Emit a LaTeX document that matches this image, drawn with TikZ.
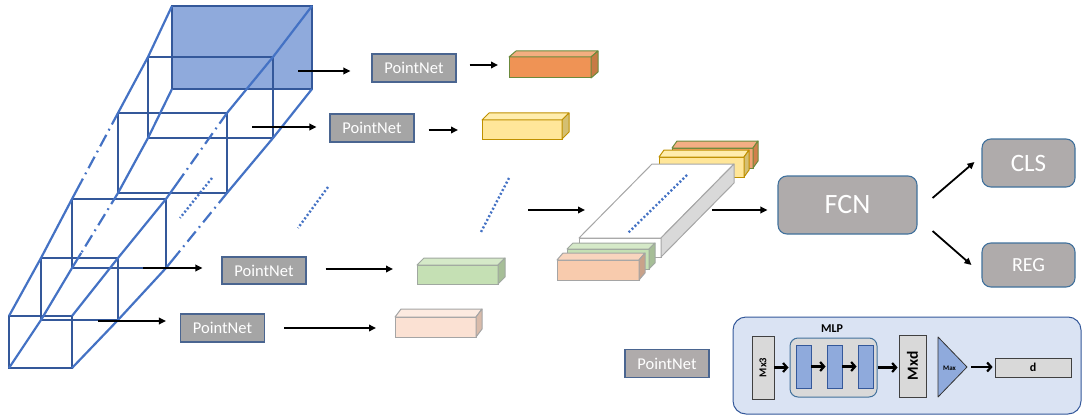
\documentclass[tikz,border=0pt]{standalone}
\usepackage{fontspec}
\setmainfont{Carlito}
\usetikzlibrary{arrows.meta,calc}
\definecolor{edgeblue}{HTML}{4472C4}
\definecolor{boxblue}{HTML}{34589A}
\definecolor{faceblue}{HTML}{8FAADC}
\definecolor{pngray}{HTML}{A5A5A5}
\definecolor{pnborder}{HTML}{4A6590}
\definecolor{warmgray}{HTML}{AFABAB}
\definecolor{rbord}{HTML}{41719C}
\definecolor{panelfill}{HTML}{DAE3F3}
\definecolor{lgray}{HTML}{D9D9D9}
% cuboid colour sets: F front, T top, S side, B border
\definecolor{orgF}{HTML}{EF9355}\definecolor{orgT}{HTML}{F4AE80}\definecolor{orgS}{HTML}{C77A45}\definecolor{orgB}{HTML}{6B8A3C}
\definecolor{yelF}{HTML}{FFE699}\definecolor{yelT}{HTML}{FFEDAD}\definecolor{yelS}{HTML}{D4BF72}\definecolor{yelB}{HTML}{BF9000}
\definecolor{grnF}{HTML}{C5E0B4}\definecolor{grnT}{HTML}{D5E9C8}\definecolor{grnS}{HTML}{A6BE97}\definecolor{grnB}{HTML}{A0A8A0}
\definecolor{pnkF}{HTML}{FBE1D3}\definecolor{pnkT}{HTML}{FCEAE0}\definecolor{pnkS}{HTML}{D9BBAA}\definecolor{pnkB}{HTML}{A5A5A5}
\definecolor{spkF}{HTML}{F8CBAD}\definecolor{spkT}{HTML}{F9D5BE}\definecolor{spkS}{HTML}{C9A28A}\definecolor{spkB}{HTML}{A5A5A5}
\definecolor{sorF}{HTML}{F2A275}\definecolor{sorT}{HTML}{F4AE84}\definecolor{sorS}{HTML}{D0804C}\definecolor{sorB}{HTML}{6B8A3C}
\definecolor{whtF}{HTML}{FFFFFF}\definecolor{whtT}{HTML}{FFFFFF}\definecolor{whtS}{HTML}{D9D9D9}\definecolor{whtB}{HTML}{A6A6A6}
\newcommand\mkcub[8]{%
  \node[cubfront, fill=#8F, draw=#8B, minimum width={#4pt-#2pt}, minimum height={#5pt-#3pt}] (#1) at ({(#2+#4)/2},{(#3+#5)/2}) {};
  \filldraw[fill=#8T, draw=#8B, line width=1pt, line join=round] (#1.north west) -- ++(#6,#7) -- ([shift={(#6,#7)}]#1.north east) -- (#1.north east) -- cycle;
  \filldraw[fill=#8S, draw=#8B, line width=1pt, line join=round] (#1.north east) -- ++(#6,#7) -- ([shift={(#6,#7)}]#1.south east) -- (#1.south east) -- cycle;
}
\tikzset{
  edge/.style={draw=edgeblue, line width=2.2pt},
  dashdot/.style={dash pattern=on 13pt off 5pt on 1.8pt off 5pt},
  frame/.style={draw=boxblue, line width=2.2pt},
  dots/.style={draw=edgeblue, line width=2.4pt, dash pattern=on 2pt off 2.2pt},
  cubfront/.style={rectangle, inner sep=0pt, outer sep=0pt, line width=1pt},
  pn/.style={rectangle, draw=pnborder, fill=pngray, text=white, line width=1.1pt,
    minimum width=84pt, minimum height=28pt, inner sep=0pt, font=\fontsize{16.5}{19}\selectfont},
  rbox/.style={rectangle, rounded corners=9pt, draw=rbord, fill=warmgray, text=white, line width=1.1pt, inner sep=0pt},
  arr/.style={draw=black, line width=1.8pt, -{Triangle[length=7pt,width=6.5pt]}},
  larr/.style={draw=black, line width=2.2pt, -{Straight Barb[length=4pt,width=9pt]}},
  lbox/.style={rectangle, draw=black!75, fill=lgray, line width=0.8pt, inner sep=0pt},
  mblue/.style={rectangle, draw=boxblue, fill=faceblue, line width=0.8pt, inner sep=0pt, minimum width=15pt, minimum height=43pt},
}
\begin{document}
\begin{tikzpicture}[x=1pt,y=-1pt]
\useasboundingbox (0,0) rectangle (1083,417);
% ---------- frustum of boxes ----------
\coordinate (f0a) at (172,6);  \coordinate (f0b) at (312,6);  \coordinate (f0c) at (312,89);  \coordinate (f0d) at (172,89);
\coordinate (f1a) at (148,57); \coordinate (f1b) at (273,57); \coordinate (f1c) at (273,138); \coordinate (f1d) at (148,138);
\coordinate (f2a) at (118,113);\coordinate (f2b) at (227,113);\coordinate (f2c) at (227,193); \coordinate (f2d) at (118,193);
\coordinate (f3a) at (72,199); \coordinate (f3b) at (166,199);\coordinate (f3c) at (166,268); \coordinate (f3d) at (72,268);
\coordinate (f4a) at (41,258); \coordinate (f4b) at (118,258);\coordinate (f4c) at (118,320); \coordinate (f4d) at (41,320);
\coordinate (f5a) at (9,316);  \coordinate (f5b) at (72,316); \coordinate (f5c) at (72,368);  \coordinate (f5d) at (9,368);
\filldraw[frame, fill=faceblue] (f0a) rectangle (f0c);
\foreach \i in {1,...,5} { \draw[frame] (f\i a) rectangle (f\i c); }
\foreach \s in {a,b,c,d} {
  \draw[edge, line join=round] (f0\s) -- (f1\s) -- (f2\s);
  \draw[edge, dashdot] (f2\s) -- ($(f2\s)!0.8!(f3\s)$);
  \draw[edge, line join=round] ($(f2\s)!0.8!(f3\s)$) -- (f3\s) -- (f4\s) -- (f5\s);
}
\draw[dots] (212,178) -- (180,218);
\draw[dots] (328,187) -- (298,228);
\draw[dots] (509,178) -- (481,232);
% arrow starts inside the frustum
\coordinate (fr1) at (298,71);
\coordinate (fr2) at (252,127);
\coordinate (fr3) at (143,268);
\coordinate (fr4) at (98,321);
% ---------- PointNet boxes ----------
\node[pn] (p1) at (414,68) {PointNet};
\node[pn] (p2) at (372,128) {PointNet};
\node[pn, minimum height=27pt] (p3) at (264,270.5) {PointNet};
\node[pn] (p4) at (222.5,328) {PointNet};
% ---------- feature cuboids ----------
\mkcub{ob}{509}{57}{591}{78}{7}{-6}{org}
\mkcub{yb}{482}{120}{562}{139}{7}{-7}{yel}
\mkcub{gb}{417}{265}{498}{284}{7}{-7}{grn}
\mkcub{kb}{395}{317}{476}{337}{6}{-8}{pnk}
% arrows frustum -> PointNet
\draw[arr, shorten >=21pt] (fr1) -- (fr1 -| p1.west);
\draw[arr, shorten >=13pt] (fr2) -- (fr2 -| p2.west);
\draw[arr, shorten >=19pt] (fr3) -- (fr3 -| p3.west);
\draw[arr, shorten >=14pt] (fr4) -- (fr4 -| p4.west);
% arrows PointNet -> cuboids
\draw[arr, shorten <=13pt, shorten >=11pt] ([yshift=3pt]p1.east) -- ([yshift=3pt]p1.east -| ob.west);
\draw[arr, shorten <=14pt, shorten >=24pt] ([yshift=-2pt]p2.east) -- ([yshift=-2pt]p2.east -| yb.west);
\draw[arr, shorten <=19pt, shorten >=24pt] ([yshift=1.5pt]p3.east) -- ([yshift=1.5pt]p3.east -| gb.west);
\draw[arr, shorten <=19pt, shorten >=19pt] (p4.east) -- (p4.east -| kb.west);
% ---------- stacked features ----------
\mkcub{so}{672}{148}{753}{168}{5}{-7}{sor}
\mkcub{sy}{659}{157}{744}{177}{5}{-7}{yel}
\mkcub{ws}{579}{238}{661}{257}{73}{-74}{wht}
\draw[dots] (687,175) -- (628,233);
\mkcub{sg}{567}{249}{649}{269}{6}{-6}{grn}
\mkcub{sp}{557}{260}{639}{280}{6}{-7}{spk}
\coordinate (stin) at (528,210);
\coordinate (stk) at (585,210);
\coordinate (stout) at (712,210);
\draw[arr] (stin) -- (stk);
% ---------- FCN / CLS / REG ----------
\node[rbox, minimum width=139pt, minimum height=58pt, font=\fontsize{28}{32}\selectfont] (fcn) at (847.5,205) {FCN};
\node[rbox, minimum width=93pt, minimum height=48pt, font=\fontsize{25}{29}\selectfont] (cls) at (1028.5,163) {CLS};
\node[rbox, minimum width=93pt, minimum height=44pt, font=\fontsize{20}{24}\selectfont] (reg) at (1028.5,265) {REG};
\draw[arr, shorten >=10pt] (stout) -- (stout -| fcn.west);
\draw[arr] ([shift={(15,-7)}]fcn.east) -- ([shift={(-7,-1)}]cls.west);
\draw[arr] ([shift={(15,26)}]fcn.east) -- ([shift={(-10,0)}]reg.west);
% ---------- legend ----------
\node[rectangle, rounded corners=13pt, draw=boxblue, fill=panelfill, line width=1pt,
  minimum width=348pt, minimum height=97pt, inner sep=0pt] (legend) at (907,365.5) {};
\node[pn, fill=warmgray, draw=pnborder] (p5) at (667,363.5) {PointNet};
\node[lbox, minimum width=22pt, minimum height=63pt] (mx3) at (763,367.5) {};
\node[rotate=90, font=\bfseries\fontsize{10.5}{12}\selectfont] at (mx3.center) {Mx3};
\node[rectangle, rounded corners=8pt, draw=rbord, fill=lgray, line width=1pt,
  minimum width=87pt, minimum height=59pt, inner sep=0pt] (mlp) at (833.5,367.5) {};
\node[font=\bfseries\fontsize{12}{14}\selectfont] (mlplbl) at (832,329) {MLP};
\node[mblue] (b1) at (803.5,366.5) {};
\node[mblue] (b2) at (834.5,366.5) {};
\node[mblue] (b3) at (865.5,366.5) {};
\node[lbox, minimum width=27pt, minimum height=62pt] (mxd) at (912.5,366) {};
\node[rotate=90, font=\bfseries\fontsize{15.5}{17}\selectfont] at (mxd.center) {Mxd};
\coordinate (mxa) at (938,337);
\coordinate (mxb) at (938,397);
\coordinate (mxc) at (967,367);
\filldraw[fill=faceblue, draw=black!80, line width=0.8pt, line join=round] (mxa) -- (mxc) -- (mxb) -- cycle;
\node[font=\bfseries\fontsize{7}{8}\selectfont] (maxl) at (949.5,368) {Max};
\node[lbox, minimum width=76pt, minimum height=19pt, font=\bfseries\fontsize{12}{14}\selectfont] (dbox) at (1033,367.5) {d};
\draw[larr, shorten >=1pt] (mx3.east) -- (mx3.east -| mlp.west);
\draw[larr, shorten >=1pt] (b1.east) -- (b1.east -| b2.west);
\draw[larr, shorten >=1pt] (b2.east) -- (b2.east -| b3.west);
\draw[larr, shorten >=1pt] (mlp.east) -- (mlp.east -| mxd.west);
\draw[larr, shorten <=4pt, shorten >=2pt] (mxc) -- (mxc -| dbox.west);
\end{tikzpicture}
\end{document}
